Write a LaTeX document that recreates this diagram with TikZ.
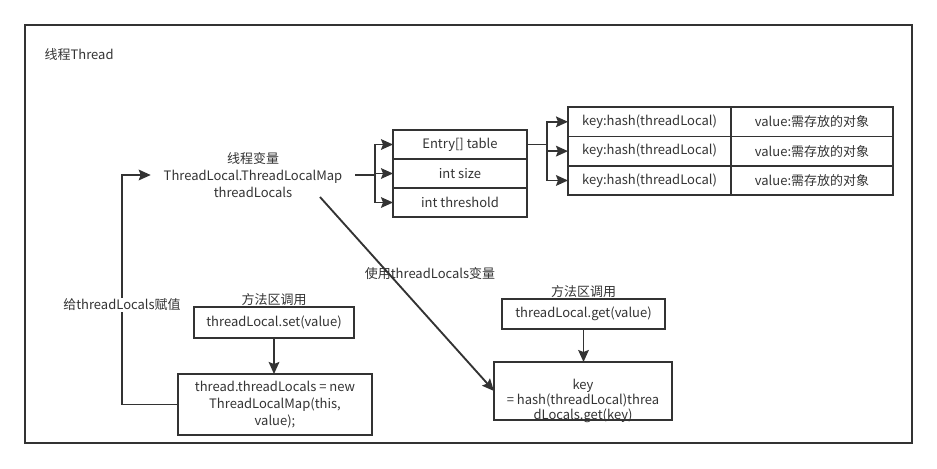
\documentclass[tikz,border=0pt]{standalone}
\usepackage{fontspec}
\setmainfont{Noto Sans CJK SC}
\usetikzlibrary{arrows.meta, positioning}
\definecolor{linegray}{HTML}{333333}
\definecolor{textgray}{HTML}{333333}

\begin{document}
\begin{tikzpicture}[
  x=0.75pt, y=-0.75pt,
  every node/.style={font=\fontsize{9.75}{12.75}\selectfont, text=textgray},
  cell/.style={
    rectangle, draw=linegray, line width=1.4pt, outer sep=0pt,
    minimum height=22pt, inner sep=2pt, align=center
  },
  box/.style={rectangle, draw=linegray, line width=1.4pt, outer sep=0pt, inner sep=2pt, align=center},
  lbl/.style={align=center, inner sep=1pt},
  arr/.style={-{Stealth[length=9pt, width=8pt, inset=1.5pt]}, line width=1.4pt, draw=linegray},
  wire/.style={line width=1.4pt, draw=linegray}
]
  \useasboundingbox (0,0) rectangle (937,468);
  \draw[wire] (25,25) rectangle (912,443);
  \node[lbl, anchor=west] (title) at (43,55) {线程Thread};

  % thread variable and its map
  \node[lbl, minimum width=153pt] (var) at (253,175) {线程变量\\ThreadLocal.ThreadLocalMap\\threadLocals};
  \node[cell, minimum width=100.5pt, minimum height=21.75pt] (entry) at (460,144.5) {Entry[] table};
  \node[cell, minimum width=100.5pt, minimum height=21.75pt, below=0pt of entry] (size) {int size};
  \node[cell, minimum width=100.5pt, minimum height=21.75pt, below=0pt of size] (threshold) {int threshold};

  \node[cell, minimum width=122.25pt] (key1) at (649.5,121.8) {key:hash(threadLocal)};
  \node[cell, minimum width=121.5pt, right=0pt of key1] (val1) {value:需存放的对象};
  \node[cell, minimum width=122.25pt, below=0pt of key1] (key2) {key:hash(threadLocal)};
  \node[cell, minimum width=121.5pt, right=0pt of key2] (val2) {value:需存放的对象};
  \node[cell, minimum width=122.25pt, below=0pt of key2] (key3) {key:hash(threadLocal)};
  \node[cell, minimum width=121.5pt, right=0pt of key3] (val3) {value:需存放的对象};

  \coordinate (fork1) at (375,175);
  \coordinate (fork2) at (547,144.5);
  \draw[arr] (var.east) -- (fork1) |- (entry.west);
  \draw[arr] (fork1) |- (size.west);
  \draw[arr] (fork1) |- (threshold.west);
  \draw[wire] (entry.east) -- (fork2);
  \draw[arr] (fork2) |- (key1.west);
  \draw[arr] (fork2) |- (key2.west);
  \draw[arr] (fork2) |- (key3.west);

  % set side
  \node[box, minimum width=120pt, minimum height=23.25pt] (setcall) at (274,322.5) {threadLocal.set(value)};
  \node[lbl, above=0pt of setcall] (setnote) {方法区调用};
  \node[box, minimum width=145.5pt, minimum height=45.75pt] (newmap) at (275,404.5) {thread.threadLocals = new\\ThreadLocalMap(this,\\value);};
  \draw[arr] (setcall.south) -- (setcall.south |- newmap.north);

  \coordinate (assign) at (122,305);
  \draw[arr] (newmap.west) -| (assign) |- (var.west);
  \node[lbl, fill=white] (assignlabel) at (assign) {给threadLocals赋值};

  % get side
  \node[box, minimum width=122.25pt, minimum height=22.5pt] (getcall) at (583.5,314) {threadLocal.get(value)};
  \node[lbl, above=0pt of getcall] (getnote) {方法区调用};
  \node[box, minimum width=133.5pt, minimum height=43.5pt] (keycalc) at (583,391) {};
  \node[lbl, font=\fontsize{9.75}{11.25}\selectfont] (keytext) at (583,401) {key\\= hash(threadLocal)threa\\dLocals.get(key)};
  \draw[arr] (getcall.south) -- (getcall.south |- keycalc.north);

  \coordinate (usestart) at (320,197);
  \draw[arr] (usestart) -- (keycalc.west);
  \node[lbl] (uselabel) at (430,274) {使用threadLocals变量};
\end{tikzpicture}
\end{document}
